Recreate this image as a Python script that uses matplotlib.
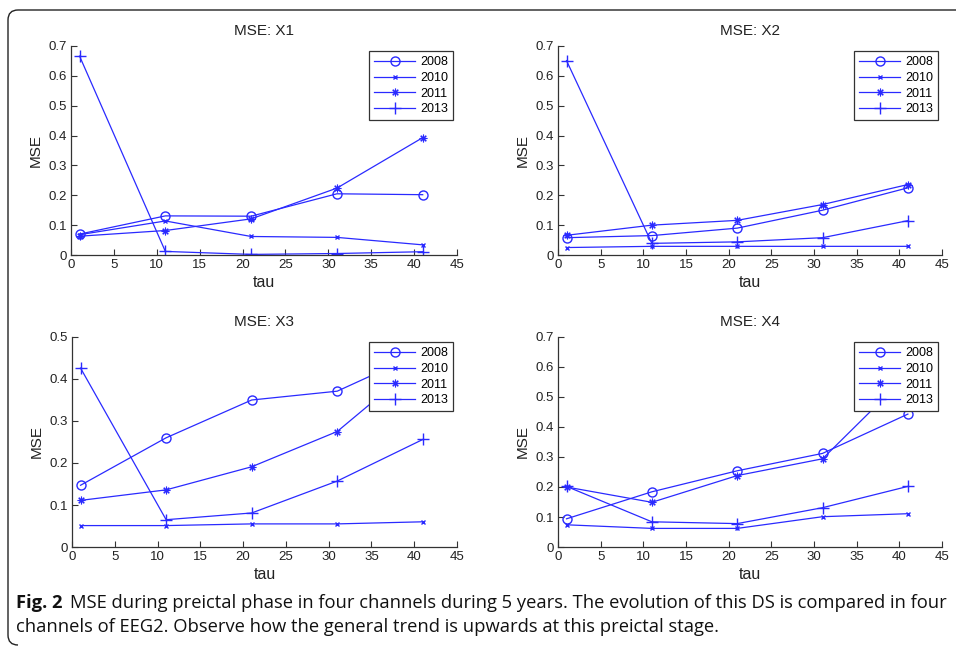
import matplotlib.pyplot as plt
from matplotlib.path import Path
from matplotlib.patches import PathPatch
from matplotlib.ticker import FuncFormatter

tau = [1, 11, 21, 31, 41]
years = ['2008', '2010', '2011', '2013']

# MSE per channel, one list per year
x1_2008 = [0.070, 0.131, 0.130, 0.205, 0.202]
x1_2010 = [0.068, 0.114, 0.062, 0.059, 0.034]
x1_2011 = [0.063, 0.082, 0.121, 0.224, 0.393]
x1_2013 = [0.666, 0.012, 0.002, 0.005, 0.011]

x2_2008 = [0.058, 0.065, 0.090, 0.150, 0.225]
x2_2010 = [0.025, 0.029, 0.029, 0.029, 0.029]
x2_2011 = [0.066, 0.100, 0.116, 0.169, 0.236]
x2_2013 = [0.651, 0.039, 0.044, 0.058, 0.115]

x3_2008 = [0.147, 0.260, 0.350, 0.371, 0.464]
x3_2010 = [0.051, 0.051, 0.055, 0.055, 0.060]
x3_2011 = [0.111, 0.136, 0.191, 0.275, 0.445]
x3_2013 = [0.426, 0.065, 0.081, 0.157, 0.256]

x4_2008 = [0.094, 0.184, 0.254, 0.312, 0.443]
x4_2010 = [0.074, 0.062, 0.062, 0.101, 0.111]
x4_2011 = [0.200, 0.149, 0.238, 0.294, 0.575]
x4_2013 = [0.202, 0.084, 0.078, 0.131, 0.202]

channels = ['X1', 'X2', 'X3', 'X4']
series = [
    [x1_2008, x1_2010, x1_2011, x1_2013],
    [x2_2008, x2_2010, x2_2011, x2_2013],
    [x3_2008, x3_2010, x3_2011, x3_2013],
    [x4_2008, x4_2010, x4_2011, x4_2013],
]
ymax = [0.7, 0.7, 0.5, 0.7]

plt.rcParams['font.family'] = ['Liberation Sans', 'DejaVu Sans']

W, H = 956, 647
fig = plt.figure(figsize=(W / 100, H / 100), dpi=100)

# axes boxes in pixels: left, top, right, bottom
boxes = [(71, 46, 457, 255), (558, 46, 942, 255),
         (72, 337, 457, 547), (558, 337, 942, 547)]

blue = '#2a2aff'
markers = [dict(marker='o', ms=6.5, mfc='none', mew=1.0),
           dict(marker='x', ms=3.5, mew=1.0),
           dict(marker=(8, 2, 0), ms=5.5, mew=0.8),
           dict(marker='+', ms=8, mew=1.0)]

fmt = FuncFormatter(lambda v, p: '%g' % round(v, 2))

for k in range(4):
    l, t, r, b = boxes[k]
    ax = fig.add_axes([l / W, 1 - b / H, (r - l) / W, (b - t) / H])
    for j in range(4):
        ax.plot(tau, series[k][j], color=blue, lw=0.9, label=years[j],
                mec=blue, **markers[j])
    ax.set_xlim(0, 45)
    ax.set_ylim(0, ymax[k])
    ax.set_xticks(range(0, 46, 5))
    ax.set_yticks([i / 10 for i in range(int(round(ymax[k] * 10)) + 1)])
    ax.yaxis.set_major_formatter(fmt)
    for s in ['top', 'right']:
        ax.spines[s].set_visible(False)
    for s in ['left', 'bottom']:
        ax.spines[s].set_color('#333333')
        ax.spines[s].set_linewidth(0.9)
    ax.tick_params(direction='in', length=4, width=0.8, color='#333333',
                   labelsize=9.5, labelcolor='#222222', pad=3)
    ax.set_title('MSE: ' + channels[k], fontsize=11, color='#222222', pad=8)
    ax.set_xlabel('tau', fontsize=11.5, color='#222222', labelpad=3)
    ax.set_ylabel('MSE', fontsize=11, color='#222222', labelpad=4)
    leg = ax.legend(loc='upper right', bbox_to_anchor=(0.99, 0.975),
                    borderaxespad=0, fancybox=False, framealpha=1,
                    edgecolor='#333333', fontsize=9, handlelength=3.3,
                    labelspacing=0.3, borderpad=0.4, handletextpad=0.4)
    leg.get_frame().set_linewidth(0.9)

# rounded frame around the figure and caption
r = 10
x0, y0 = 8, 10
x1, y1 = 960, 645
verts = [(x0 + r, y1), (x0, y1), (x0, y1 - r), (x0, y0 + r), (x0, y0),
         (x0 + r, y0), (x1, y0)]
codes = [Path.MOVETO, Path.CURVE3, Path.CURVE3, Path.LINETO, Path.CURVE3,
         Path.CURVE3, Path.LINETO]
verts = [(vx / W, 1 - vy / H) for vx, vy in verts]
fig.patches.append(PathPatch(Path(verts, codes), fill=False, lw=1.0,
                             ec='#222222', transform=fig.transFigure))

cap_font = ['Liberation Sans Narrow', 'Open Sans', 'DejaVu Sans']
cap_size = 13.2
fig.text(16 / W, 1 - 608 / H, 'Fig. 2', fontsize=cap_size, fontweight='bold',
         family=cap_font, va='baseline', color='#111111')
fig.text(70 / W, 1 - 608 / H,
         'MSE during preictal phase in four channels during 5 years. '
         'The evolution of this DS is compared in four',
         fontsize=cap_size, family=cap_font, va='baseline', color='#111111')
fig.text(16 / W, 1 - 632 / H,
         'channels of EEG2. Observe how the general trend is upwards '
         'at this preictal stage.',
         fontsize=cap_size, family=cap_font, va='baseline', color='#111111')

fig.savefig('out.png', dpi=100)
